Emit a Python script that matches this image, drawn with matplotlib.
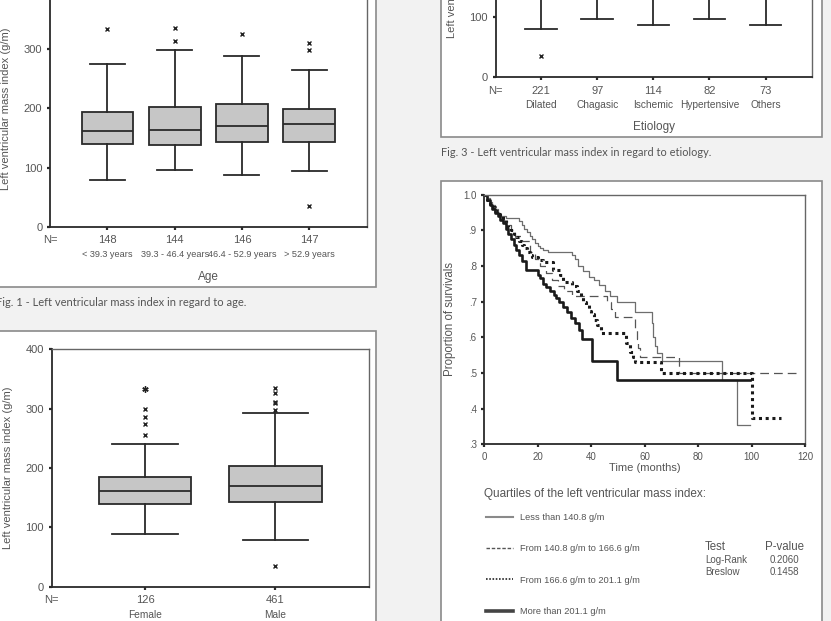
import matplotlib
matplotlib.use("Agg")
import matplotlib.pyplot as plt
from matplotlib.patches import Rectangle
from matplotlib.lines import Line2D

plt.rcParams['font.family'] = 'Liberation Sans'
NARROW = ['Liberation Sans Narrow', 'Liberation Sans']
TXT = '#555555'
EDGE = '#2a2a2a'
FILL = '#c6c6c6'

# ---- data: Fig. 1, LV mass index by age quartile
age_groups = ['< 39.3 years', '39.3 - 46.4 years', '46.4 - 52.9 years', '> 52.9 years']
age_n = [148, 144, 146, 147]
age_q1 = [140, 139, 144, 144]
age_med = [161, 164, 171, 174]
age_q3 = [194, 202, 207, 199]
age_lo = [80, 96, 87, 95]
age_hi = [274, 298, 288, 264]
age_out = [[333], [335, 314], [326], [310, 299, 35]]

# ---- data: Fig. 3, by etiology (upper part is outside the crop)
etio_groups = ['Dilated', 'Chagasic', 'Ischemic', 'Hypertensive', 'Others']
etio_n = [221, 97, 114, 82, 73]
etio_q1 = [145, 140, 150, 150, 148]
etio_med = [175, 165, 180, 185, 175]
etio_q3 = [215, 195, 215, 220, 210]
etio_lo = [79, 97, 86, 96, 87]
etio_hi = [320, 270, 300, 310, 290]
etio_out = [[35], [], [], [], []]

# ---- data: Fig. 2, by sex
sex_groups = ['Female', 'Male']
sex_n = [126, 461]
sex_q1 = [140, 143]
sex_med = [162, 170]
sex_q3 = [184, 203]
sex_lo = [88, 79]
sex_hi = [240, 292]
sex_out = [[256, 274, 286, 299], [298, 309, 312, 327, 334, 35]]
sex_extreme = [[333], []]

# ---- data: Fig. 4, Kaplan-Meier survival by LVMI quartile
km_labels = ['Less than 140.8 g/m', 'From 140.8 g/m to 166.6 g/m',
             'From 166.6 g/m to 201.1 g/m', 'More than 201.1 g/m']
km_t1 = [0, 1, 2, 3, 4, 5, 6, 8, 13, 14, 15, 16, 17, 18, 19, 20, 21, 22, 24, 33, 34, 35, 37,
         39, 41, 43, 45, 47, 49.5, 56.4, 62.6, 63.3, 64, 64.8, 66.4, 88.8, 94.6, 99.5]
km_s1 = [1.0, .99, .98, .97, .96, .95, .94, .935, .925, .915, .905, .895, .885, .875, .865,
         .855, .85, .845, .84, .83, .82, .80, .785, .77, .76, .747, .73, .715, .70, .672, .64,
         .60, .575, .555, .535, .48, .355, .355]
km_t2 = [0, 1, 2, 3, 4, 5.5, 7, 8.5, 10, 11.5, 14, 17, 19, 21, 23, 25.5, 27.5, 30, 33, 46,
         47.5, 49, 56.4, 57, 57.6, 58.3, 72.7, 117.5]
km_s2 = [1.0, .985, .97, .96, .95, .94, .925, .915, .90, .885, .87, .84, .82, .80, .78, .76,
         .745, .73, .716, .70, .68, .656, .62, .595, .57, .545, .50, .50]
km_t3 = [0, 1, 2, 3, 4, 5, 6, 7, 8, 9, 10, 11, 12, 13, 14, 15, 16, 17, 18, 20, 22, 25.8,
         28.3, 29.5, 33, 34.5, 36, 37, 38, 39, 40, 41, 42, 43.5, 53, 54.5, 55.5, 56.3, 66.2,
         100.2, 111]
km_s3 = [1.0, .985, .975, .965, .955, .945, .94, .93, .92, .91, .90, .89, .88, .87, .86, .85,
         .84, .83, .825, .818, .812, .79, .775, .756, .745, .73, .715, .70, .69, .675, .665,
         .65, .635, .613, .585, .56, .545, .532, .50, .375, .375]
km_t4 = [0, 1, 2, 3, 4, 5, 6, 7, 8, 9, 10, 11, 12, 13, 14, 15.6, 20.2, 21, 22, 23, 24.5, 26,
         27, 28, 29.5, 31, 32.5, 34, 35.5, 36.5, 40.2, 49.8, 99.5]
km_s4 = [1.0, .985, .97, .96, .95, .94, .93, .92, .905, .89, .875, .86, .845, .83, .815, .79,
         .775, .765, .75, .74, .73, .72, .71, .70, .685, .67, .655, .64, .62, .595, .535, .48,
         .48]
test_names = ['Log-Rank', 'Breslow']
test_p = ['0.2060', '0.1458']

W, H = 831, 621
fig = plt.figure(figsize=(W / 100, H / 100), dpi=100, facecolor='#f2f2f2')


def px_axes(left, top, right, bottom):
    return fig.add_axes([left / W, 1 - bottom / H, (right - left) / W, (bottom - top) / H])


def panel(left, top, right, bottom):
    fig.add_artist(Rectangle((left / W, 1 - bottom / H), (right - left) / W, (bottom - top) / H,
                             transform=fig.transFigure, facecolor='white',
                             edgecolor='#8a8a8a', lw=1.2, zorder=-1))


def style_axes(ax, labelsize=8):
    for side in ['left', 'bottom']:
        ax.spines[side].set_color(EDGE)
        ax.spines[side].set_linewidth(1.3)
    for side in ['top', 'right']:
        ax.spines[side].set_color('#666666')
        ax.spines[side].set_linewidth(1.0)
    ax.tick_params(direction='out', length=2.5, width=1.6, color=EDGE,
                   labelsize=labelsize, labelcolor=TXT, pad=3)


def under(ax, x, s, dy, xycoords='data', **kw):
    ax.annotate(s, xy=(x, 0), xycoords=(xycoords, 'axes fraction'),
                xytext=(0, -dy * 0.72), textcoords='offset points',
                ha='center', va='center', color=TXT, **kw)


def boxes(ax, q1, med, q3, lo, hi, out, width, capw, yticks):
    stats = [dict(q1=a, med=b, q3=c, whislo=d, whishi=e, fliers=f)
             for a, b, c, d, e, f in zip(q1, med, q3, lo, hi, out)]
    pos = list(range(1, len(stats) + 1))
    ax.bxp(stats, positions=pos, widths=width, capwidths=capw, patch_artist=True,
           boxprops=dict(facecolor=FILL, edgecolor=EDGE, linewidth=1.3),
           medianprops=dict(color=EDGE, linewidth=1.3),
           whiskerprops=dict(color=EDGE, linewidth=1.3),
           capprops=dict(color=EDGE, linewidth=1.3),
           flierprops=dict(marker='x', markersize=3.2, markeredgecolor='#222222',
                           markeredgewidth=1.0))
    ax.set_xticks(pos, labels=[])
    ax.set_ylim(0, 400)
    ax.set_yticks(yticks)
    return pos


# white page panels
panel(-5, -5, 376, 287)
panel(441, -5, 821.7, 137)
panel(-5, 331, 376, 630)
panel(441, 180.7, 821.7, 630)

# ---- Fig. 1
ax1 = px_axes(50, -10.3, 367, 227)
pos = boxes(ax1, age_q1, age_med, age_q3, age_lo, age_hi, age_out, 0.77, 0.52,
            [0, 100, 200, 300])
ax1.set_xlim(0.146, 4.86)
style_axes(ax1)
under(ax1, 0, 'N=', 13, xycoords='axes fraction', fontsize=8)
for p, n, g in zip(pos, age_n, age_groups):
    under(ax1, p, str(n), 13, fontsize=8)
    under(ax1, p, g, 27.7, fontsize=6.6, family=NARROW)
ax1.set_xlabel('Age', fontsize=8.5, color=TXT, va='center')
ax1.xaxis.set_label_coords(0.5, -50 / 237.3)
ax1.set_ylabel('Left ventricular mass index (g/m)', fontsize=8, color=TXT, va='center')
ax1.yaxis.set_label_coords(-0.139, 0.5)
fig.text(-4 / W, 1 - 303 / H, 'Fig. 1 - Left ventricular mass index in regard to age.',
         fontsize=8, color=TXT, va='center', family='Lato')

# ---- Fig. 3
ax3 = px_axes(495.7, -163.3, 811.7, 76.7)
pos = boxes(ax3, etio_q1, etio_med, etio_q3, etio_lo, etio_hi, etio_out, 0.8, 0.56, [0, 100])
ax3.set_xlim(0.194, 5.82)
style_axes(ax3)
under(ax3, 0, 'N=', 14, xycoords='axes fraction', fontsize=8)
for p, n, g in zip(pos, etio_n, etio_groups):
    under(ax3, p, str(n), 14, fontsize=8)
    under(ax3, p, g, 28.7, fontsize=7.3, family=NARROW)
ax3.set_xlabel('Etiology', fontsize=8.5, color=TXT, va='center')
ax3.xaxis.set_label_coords(0.5, -50 / 240)
ax3.set_ylabel('Left ventricular mass index (g/m)', fontsize=8, color=TXT, va='center')
ax3.yaxis.set_label_coords(-0.139, 0.5)
fig.text(441 / W, 1 - 153 / H, 'Fig. 3 - Left ventricular mass index in regard to etiology.',
         fontsize=7.9, color=TXT, va='center', family='Lato')

# ---- Fig. 2
ax2 = px_axes(51.7, 349.3, 368.7, 586.7)
pos = boxes(ax2, sex_q1, sex_med, sex_q3, sex_lo, sex_hi, sex_out, 0.71, 0.5,
            [0, 100, 200, 300, 400])
for p, ex in zip(pos, sex_extreme):
    ax2.plot([p] * len(ex), ex, ls='none', marker=(6, 2, 0), markersize=4.5,
             markeredgecolor='#222222', markeredgewidth=1.0)
ax2.set_xlim(0.284, 2.717)
style_axes(ax2)
under(ax2, 0, 'N=', 13.3, xycoords='axes fraction', fontsize=8)
for p, n, g in zip(pos, sex_n, sex_groups):
    under(ax2, p, str(n), 13.3, fontsize=8)
    under(ax2, p, g, 28.3, fontsize=7.3, family=NARROW)
ax2.set_ylabel('Left ventricular mass index (g/m)', fontsize=8, color=TXT, va='center')
ax2.yaxis.set_label_coords(-0.137, 0.5)

# ---- Fig. 4
ax4 = px_axes(484.3, 194.7, 805, 444.3)
ax4.step(km_t1, km_s1, where='post', color='#6e6e6e', lw=0.9)
ax4.step(km_t2, km_s2, where='post', color='#555555', lw=0.9, dashes=(7, 4))
ax4.step(km_t3, km_s3, where='post', color='#1a1a1a', lw=2.2, linestyle=(0, (1, 1.2)))
ax4.step(km_t4, km_s4, where='post', color='#1a1a1a', lw=1.9)
ax4.set_xlim(0, 120)
ax4.set_ylim(0.3, 1.0)
ax4.set_xticks(range(0, 121, 20))
yt = [0.3, 0.4, 0.5, 0.6, 0.7, 0.8, 0.9, 1.0]
ax4.set_yticks(yt, labels=['1.0' if v == 1.0 else f'{v:.1f}'[1:] for v in yt])
style_axes(ax4, labelsize=7)
ax4.set_xlabel('Time (months)', fontsize=8, color=TXT, va='center')
ax4.xaxis.set_label_coords(0.5, -23.7 / 249.6)
ax4.set_ylabel('Proportion of survivals', fontsize=8.3, color=TXT, va='center')
ax4.yaxis.set_label_coords(-0.107, 0.5)

fig.text(484 / W, 1 - 494 / H, 'Quartiles of the left ventricular mass index:',
         fontsize=8.5, color=TXT, va='center')
handles = [Line2D([], [], color='#8a8a8a', lw=1.5),
           Line2D([], [], color='#555555', lw=1.0, dashes=(2.5, 1.3)),
           Line2D([], [], color='#333333', lw=1.3, dashes=(0.9, 0.9)),
           Line2D([], [], color='#444444', lw=2.6)]
fig.legend(handles, km_labels, loc='upper left', bbox_to_anchor=(486 / W, 1 - 513 / H),
           frameon=False, borderpad=0, borderaxespad=0, handlelength=2.85,
           handletextpad=0.75, labelspacing=2.4,
           prop=dict(family=NARROW, size=6.7), labelcolor=TXT)

fig.text(705 / W, 1 - 546.7 / H, 'Test', fontsize=8.3, color=TXT, va='center')
fig.text(765 / W, 1 - 546.7 / H, 'P-value', fontsize=8.3, color=TXT, va='center')
for i, (name, p) in enumerate(zip(test_names, test_p)):
    y = 560 + i * 11.7
    fig.text(705 / W, 1 - y / H, name, fontsize=7, color=TXT, va='center', family=NARROW)
    fig.text(784 / W, 1 - y / H, p, fontsize=7, color=TXT, va='center', ha='center',
             family=NARROW)

fig.savefig('out.png', dpi=100, facecolor=fig.get_facecolor())
